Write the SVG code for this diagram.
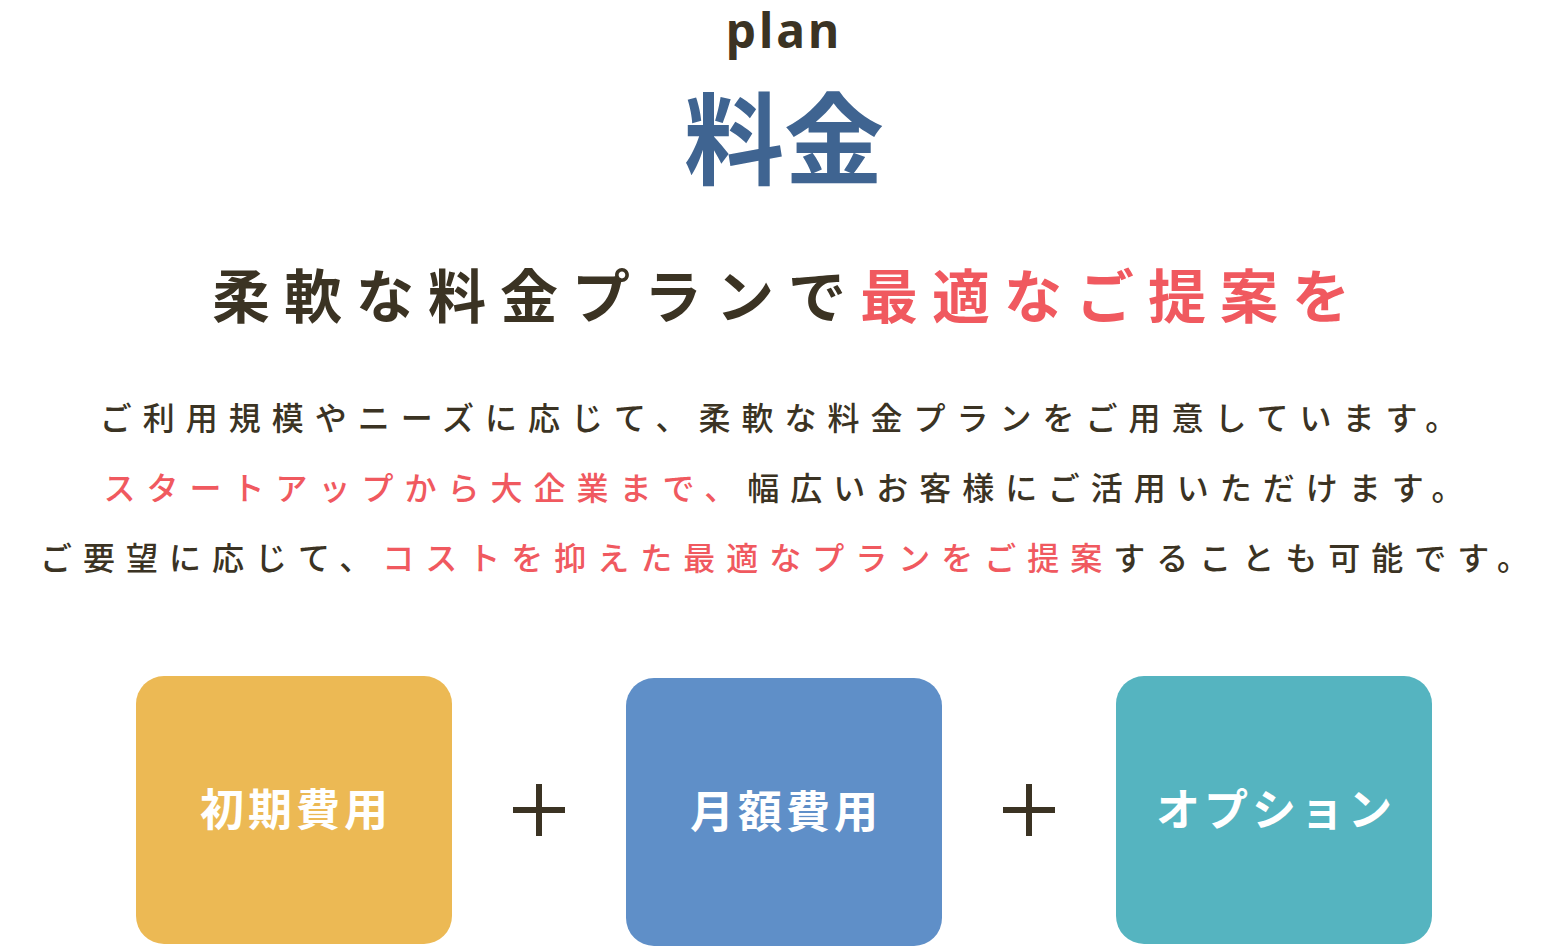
<svg xmlns="http://www.w3.org/2000/svg" width="1568" height="946" viewBox="0 0 1568 946">
<style>
text{font-family:"Noto Sans CJK JP","Noto Sans",sans-serif;text-anchor:middle;font-weight:bold}
.d{fill:#3b3323}.p{fill:#f0595f}
.para{font-size:32px;letter-spacing:11px;font-weight:500}
.lbl{fill:#fff;font-size:44px;letter-spacing:4px}
.plus{stroke:#3b3323;stroke-width:6}
</style>
<rect width="1568" height="946" fill="#fff"/>
<text class="d" x="784" y="48" font-size="48" style="font-family:'Noto Sans',sans-serif;letter-spacing:3px">plan</text>
<text x="784" y="177" font-size="100" fill="#3f6491">料金</text>
<text x="788" y="318" font-size="58" style="letter-spacing:14px"><tspan class="d">柔軟な料金プランで</tspan><tspan class="p">最適なご提案を</tspan></text>
<text class="para d" x="784" y="430">ご利用規模やニーズに応じて、柔軟な料金プランをご用意しています。</text>
<text class="para d" x="789" y="500"><tspan class="p">スタートアップから大企業まで、</tspan>幅広いお客様にご活用いただけます。</text>
<text class="para d" x="790" y="570">ご要望に応じて、<tspan class="p">コストを抑えた最適なプランをご提案</tspan>することも可能です。</text>
<g id="initial"><rect x="136" y="676" width="316" height="268" rx="28" fill="#ecb954"/><text class="lbl" x="296" y="826">初期費用</text></g>
<g id="monthly"><rect x="626" y="678" width="316" height="268" rx="28" fill="#5f8fc8"/><text class="lbl" x="786" y="828">月額費用</text></g>
<g id="option"><rect x="1116" y="676" width="316" height="268" rx="28" fill="#55b4c0"/><text class="lbl" x="1276" y="826">オプション</text></g>
<g id="connectors">
<path class="plus" d="M513 810H565M539 784V836"/>
<path class="plus" d="M1003 810H1055M1029 784V836"/>
</g>
</svg>
